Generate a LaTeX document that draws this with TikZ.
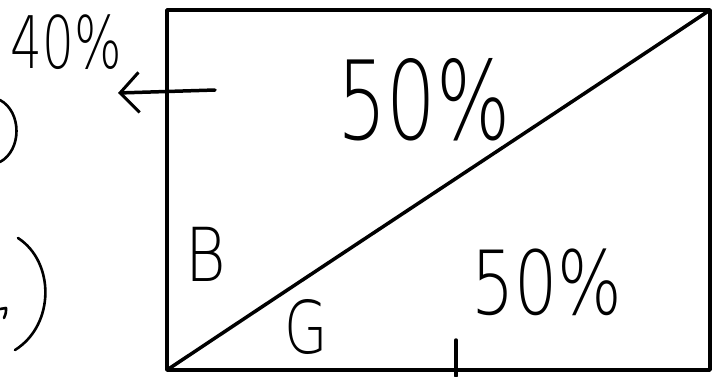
\documentclass[tikz,border=0pt]{standalone}
\usepackage{fontspec}
\newfontfamily\hand{DejaVu Sans ExtraLight}
\usetikzlibrary{arrows.meta}
\tikzset{
  stroke/.style={line width=3.5pt, line cap=round, line join=round},
  pen/.style={line width=2.6pt, line cap=round, line join=round},
  lbl/.style={inner sep=0pt, anchor=center, font=\hand},
}
\begin{document}
\begin{tikzpicture}[x=1pt,y=-1pt]
\useasboundingbox (0,0) rectangle (715,376);
% rectangle
\coordinate (tl) at (167,10);
\coordinate (tr) at (710,10);
\coordinate (br) at (710,370);
\coordinate (bl) at (167,370);
\draw[stroke] (tl) -- (tr) -- (br) -- (bl) -- cycle;
\draw[stroke] (bl) .. controls (350,248) and (530,130) .. (tr);
% tick at bottom
\coordinate (t1) at (456,340);
\coordinate (t2) at (456,376);
\draw[stroke] (t1) -- (t2);
% arrow
\coordinate (a1) at (215,90);
\coordinate (a2) at (118,93);
\draw[stroke, -{Straight Barb[length=19pt,width=40pt,line width=3pt]}] (a1) -- (a2);
% labels
\node[lbl] (p40) at (66,42) {\scalebox{1}[1.45]{\fontsize{50}{50}\selectfont 40\%}};
\node[lbl] (u50) at (424,100) {\scalebox{1}[1.4]{\fontsize{78}{78}\selectfont 50\%}};
\node[lbl] (l50) at (547,282) {\scalebox{1}[1.3]{\fontsize{68}{68}\selectfont 50\%}};
\node[lbl] (B) at (206,254) {\scalebox{1}[1.2]{\fontsize{62}{62}\selectfont B}};
\node[lbl] (G) at (306,327) {\scalebox{1}[1.3]{\fontsize{56}{56}\selectfont G}};
% parentheses on the left edge
\draw[pen] (0,100) .. controls (22,112) and (22,150) .. (0,162);
\draw[pen] (18,238) .. controls (55,262) and (55,325) .. (15,350);
\draw[pen] (0,309) -- (6,308) .. controls (6,313) .. (4,318);
\end{tikzpicture}
\end{document}
